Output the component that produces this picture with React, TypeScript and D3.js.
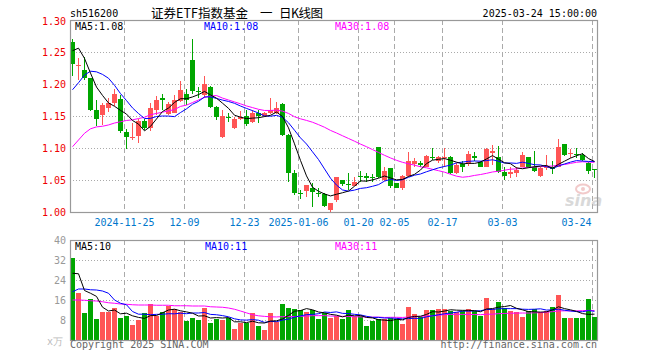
import React from "react";
import * as d3 from "d3";

const dates = [
  "2024-11-12","2024-11-13","2024-11-14","2024-11-15","2024-11-18","2024-11-19","2024-11-20","2024-11-21","2024-11-22",
  "2024-11-25","2024-11-26","2024-11-27","2024-11-28","2024-11-29",
  "2024-12-02","2024-12-03","2024-12-04","2024-12-05","2024-12-06","2024-12-09","2024-12-10","2024-12-11","2024-12-12","2024-12-13",
  "2024-12-16","2024-12-17","2024-12-18","2024-12-19","2024-12-20","2024-12-23","2024-12-24","2024-12-25","2024-12-26","2024-12-27",
  "2024-12-30","2024-12-31",
  "2025-01-02","2025-01-03","2025-01-06","2025-01-07","2025-01-08","2025-01-09","2025-01-10","2025-01-13","2025-01-14","2025-01-15",
  "2025-01-16","2025-01-17","2025-01-20","2025-01-21","2025-01-22","2025-01-23","2025-01-24","2025-01-27",
  "2025-02-05","2025-02-06","2025-02-07","2025-02-10","2025-02-11","2025-02-12","2025-02-13","2025-02-14","2025-02-17","2025-02-18",
  "2025-02-19","2025-02-20","2025-02-21","2025-02-24","2025-02-25","2025-02-26","2025-02-27","2025-02-28",
  "2025-03-03","2025-03-04","2025-03-05","2025-03-06","2025-03-07","2025-03-10","2025-03-11","2025-03-12","2025-03-13","2025-03-14",
  "2025-03-17","2025-03-18","2025-03-19","2025-03-20","2025-03-21","2025-03-24",
];

const open = [
  1.266, 1.228, 1.222, 1.209, 1.159, 1.152, 1.162, 1.170, 1.177, 1.125,
  1.116, 1.118, 1.142, 1.131, 1.159, 1.178, 1.153, 1.155, 1.174, 1.184,
  1.2375, 1.189, 1.183, 1.196, 1.164, 1.117, 1.149, 1.131, 1.146, 1.150,
  1.140, 1.155, 1.150, 1.154, 1.154, 1.169, 1.120, 1.061, 1.030, 1.033,
  1.037, 1.030, 1.028, 1.003, 1.018, 1.050, 1.043, 1.041, 1.056, 1.057,
  1.055, 1.102, 1.050, 1.068, 1.046, 1.037, 1.057, 1.075, 1.076, 1.071,
  1.086, 1.080, 1.085, 1.086, 1.061, 1.0745, 1.075, 1.087, 1.078, 1.071,
  1.092, 1.086, 1.063, 1.060, 1.061, 1.071, 1.0855, 1.071, 1.056, 1.068,
  1.071, 1.071, 1.106, 1.091, 1.091, 1.089, 1.077, 1.0675,
];
const high = [
  1.270, 1.240, 1.242, 1.209, 1.175, 1.170, 1.178, 1.192, 1.183, 1.129,
  1.139, 1.145, 1.145, 1.170, 1.181, 1.184, 1.172, 1.183, 1.204, 1.192,
  1.270, 1.195, 1.2125, 1.197, 1.165, 1.159, 1.154, 1.148, 1.158, 1.159,
  1.159, 1.160, 1.157, 1.178, 1.172, 1.170, 1.122, 1.066, 1.034, 1.042,
  1.046, 1.037, 1.030, 1.0145, 1.055, 1.050, 1.061, 1.054, 1.064, 1.061,
  1.059, 1.102, 1.071, 1.068, 1.046, 1.058, 1.094, 1.084, 1.079, 1.089,
  1.0995, 1.0875, 1.0995, 1.0875, 1.076, 1.080, 1.095, 1.094, 1.079, 1.0995,
  1.105, 1.103, 1.070, 1.070, 1.071, 1.094, 1.0865, 1.096, 1.070, 1.089,
  1.080, 1.1135, 1.107, 1.098, 1.0995, 1.0915, 1.0785, 1.0675,
];
const low = [
  1.213, 1.206, 1.207, 1.158, 1.134, 1.136, 1.157, 1.165, 1.124, 1.098,
  1.113, 1.108, 1.128, 1.127, 1.152, 1.159, 1.152, 1.154, 1.172, 1.167,
  1.185, 1.178, 1.178, 1.162, 1.143, 1.115, 1.141, 1.129, 1.143, 1.134,
  1.139, 1.139, 1.148, 1.153, 1.153, 1.119, 1.047, 1.027, 1.021, 1.024,
  1.008, 1.023, 1.008, 1.000, 1.016, 1.040, 1.035, 1.040, 1.047, 1.047,
  1.047, 1.053, 1.049, 1.037, 1.037, 1.035, 1.055, 1.071, 1.070, 1.070,
  1.081, 1.076, 1.071, 1.059, 1.059, 1.063, 1.072, 1.079, 1.070, 1.070,
  1.073, 1.061, 1.050, 1.053, 1.054, 1.070, 1.068, 1.063, 1.055, 1.066,
  1.059, 1.070, 1.0875, 1.084, 1.084, 1.080, 1.060, 1.053,
];
const close = [
  1.232, 1.229, 1.210, 1.159, 1.146, 1.167, 1.170, 1.184, 1.127, 1.117,
  1.117, 1.142, 1.131, 1.162, 1.175, 1.175, 1.169, 1.175, 1.191, 1.175,
  1.189, 1.187, 1.200, 1.164, 1.149, 1.150, 1.147, 1.146, 1.149, 1.1375,
  1.154, 1.150, 1.155, 1.159, 1.1625, 1.120, 1.061, 1.030, 1.029, 1.042,
  1.032, 1.029, 1.009, 1.0135, 1.055, 1.044, 1.042, 1.047, 1.055, 1.053,
  1.054, 1.055, 1.064, 1.040, 1.038, 1.057, 1.079, 1.080, 1.074, 1.088,
  1.084, 1.0855, 1.086, 1.061, 1.073, 1.070, 1.0906, 1.085, 1.071, 1.098,
  1.096, 1.063, 1.057, 1.063, 1.066, 1.089, 1.071, 1.0645, 1.068, 1.071,
  1.067, 1.102, 1.089, 1.092, 1.090, 1.082, 1.0645, 1.066,
];
const volume = [
  32.8, 18.8, 10.8, 16.4, 8.4, 11.2, 11.2, 12.8, 8.8, 9.6,
  6.0, 8.0, 10.8, 14.4, 9.8, 11.4, 13.6, 12.4, 11.2, 7.6,
  8.8, 8.0, 12.8, 6.8, 8.4, 8.0, 8.8, 4.4, 6.8, 6.8,
  10.8, 5.6, 4.0, 10.8, 7.2, 14.4, 12.8, 12.4, 12.0, 11.2,
  12.0, 8.4, 10.8, 8.9, 9.6, 8.5, 12.0, 9.3, 9.7, 5.6,
  7.6, 8.4, 8.4, 8.7, 8.4, 6.4, 13.2, 10.4, 9.1, 12.0,
  12.0, 12.4, 12.4, 11.7, 11.2, 11.6, 12.4, 11.7, 9.6, 16.8,
  12.4, 15.2, 12.9, 11.7, 11.2, 9.3, 11.7, 12.4, 11.2, 11.7,
  13.2, 18.0, 8.7, 8.7, 8.7, 8.7, 16.4, 9.2,
];

// moving-average values before enough history exists
const ma5Head = [1.252, 1.256, 1.240, 1.217];
const ma10Head = [1.191, 1.202, 1.214, 1.220, 1.219, 1.215, 1.209, 1.198, 1.185];
const ma30Head = [
  1.102, 1.1125, 1.123, 1.130, 1.133, 1.134, 1.136, 1.139, 1.141, 1.143,
  1.144, 1.146, 1.148, 1.152, 1.154, 1.156, 1.158, 1.160, 1.165, 1.167,
  1.171, 1.175, 1.179, 1.181, 1.182, 1.178, 1.175, 1.172, 1.169,
];
const vma5Head = [26.7, 26.5, 19.8, 18.7];
const vma10Head = [19.3, 20.4, 20.4, 20.1, 20.0, 19.6, 18.7, 16.0, 14.7];
const vma30Head = [
  16.0, 16.0, 15.9, 15.7, 15.6, 15.3, 14.9, 14.7, 14.4, 14.3,
  14.1, 14.0, 14.0, 14.0, 13.9, 13.9, 13.9, 13.7, 13.7, 13.7,
  13.6, 13.6, 13.6, 13.3, 13.2, 13.1, 12.8, 12.3, 11.6,
];

const tickDates = ["2024-11-25","2024-12-09","2024-12-23","2025-01-06","2025-01-20","2025-02-05","2025-02-17","2025-03-03","2025-03-24"];
const tickLabels = ["2024-11-25","12-09","12-23","2025-01-06","01-20","02-05","02-17","03-03","03-24"];
const priceTicks = [1.0, 1.05, 1.1, 1.15, 1.2, 1.25, 1.3];
const volTicks = [8, 16, 24, 32, 40];

const symbol = "sh516200";
const titleParts = ["证券ETF指数基金", "一", "日K线图"];
const stamp = "2025-03-24 15:00:00";

const L = 70, R = 598, PT = 20, PB = 212, VT = 240, VB = 340;
const UP = "#ff5555";
const DOWN = "#00a600";
const MONO = "'DejaVu Sans Mono', 'Liberation Mono', monospace";
const CJK = "'Noto Sans CJK SC', sans-serif";

function movingAvg(vals: number[], n: number, head: number[]): number[] {
  return vals.map((_, i) => (i < head.length ? head[i] : (d3.mean(vals.slice(i - n + 1, i + 1)) as number)));
}

export default function App() {
  const x = d3.scaleBand<string>().domain(dates).range([L, R]).padding(0);
  const y = d3.scaleLinear().domain([1.0, 1.3]).range([PB, PT]);
  const yv = d3.scaleLinear().domain([0, 40]).range([VB, VT]);

  const ma5 = movingAvg(close, 5, ma5Head);
  const ma10 = movingAvg(close, 10, ma10Head);
  const ma30 = movingAvg(close, 30, ma30Head);
  const vma5 = movingAvg(volume, 5, vma5Head);
  const vma10 = movingAvg(volume, 10, vma10Head);
  const vma30 = movingAvg(volume, 30, vma30Head);

  const cx = (i: number) => (x(dates[i]) as number) + 2.5;
  const lineP = d3.line<number>().x((_, i) => cx(i)).y((d) => y(d));
  const lineV = d3.line<number>().x((_, i) => cx(i)).y((d) => yv(d));

  const last = (a: number[]) => a[a.length - 1];

  return (
    <svg width={660} height={360} style={{ position: "absolute", left: 0, top: 0, background: "#fff" }} fontFamily={MONO}>
      {/* header */}
      <text x={70} y={16.5} fontSize={10} fill="#000">{symbol}</text>
      <text x={151} y={17.5} fontSize={12.5} fill="#000" fontFamily={CJK} textLength={97} lengthAdjust="spacing">{titleParts[0]}</text>
      <text x={260} y={17.5} fontSize={12.5} fill="#000" fontFamily={CJK}>{titleParts[1]}</text>
      <text x={279} y={17.5} fontSize={12.5} fill="#000" fontFamily={CJK} textLength={44} lengthAdjust="spacing">{titleParts[2]}</text>
      <text x={597} y={16.5} fontSize={10} fill="#000" textAnchor="end">{stamp}</text>

      {/* grid */}
      {priceTicks.slice(1, -1).map((t) => (
        <line key={"ph" + t} x1={L} x2={R} y1={Math.round(y(t)) + 0.5} y2={Math.round(y(t)) + 0.5} stroke="#aaa" strokeDasharray="1,2" />
      ))}
      {tickDates.map((d) => {
        const gx = Math.round(x(d) as number) + 0.5;
        return (
          <g key={"v" + d}>
            <line x1={gx} x2={gx} y1={PT} y2={PB} stroke="#aaa" strokeDasharray="5,3" />
            <line x1={gx} x2={gx} y1={VT} y2={VB} stroke="#aaa" strokeDasharray="5,3" />
          </g>
        );
      })}
      {volTicks.slice(0, -1).map((t) => (
        <line key={"vh" + t} x1={L} x2={R} y1={Math.round(yv(t)) + 0.5} y2={Math.round(yv(t)) + 0.5} stroke="#aaa" strokeDasharray="1,2" />
      ))}

      {/* candles */}
      {dates.map((d, i) => {
        const bx = x(d) as number;
        const col = close[i] >= open[i] ? UP : DOWN;
        const top = Math.round(y(Math.max(open[i], close[i])));
        const bot = Math.round(y(Math.min(open[i], close[i])));
        const hi = Math.round(y(high[i]));
        const lo = Math.round(y(low[i]));
        return (
          <g key={d}>
            <rect x={bx + 2} y={hi} width={1} height={Math.max(1, lo - hi)} fill={col} />
            <rect x={bx} y={top} width={5} height={Math.max(1, bot - top)} fill={col} />
          </g>
        );
      })}

      {/* price MAs */}
      <path d={lineP(ma30) as string} fill="none" stroke="#ff00ff" strokeWidth={1} />
      <path d={lineP(ma10) as string} fill="none" stroke="#0000ff" strokeWidth={1} />
      <path d={lineP(ma5) as string} fill="none" stroke="#000" strokeWidth={1} />

      {/* volume bars */}
      {dates.map((d, i) => {
        const bx = x(d) as number;
        const col = close[i] >= open[i] ? UP : DOWN;
        const top = Math.round(yv(volume[i]));
        return <rect key={"vb" + d} x={bx} y={top} width={5} height={VB - top} fill={col} />;
      })}
      <path d={lineV(vma30) as string} fill="none" stroke="#ff00ff" strokeWidth={1} />
      <path d={lineV(vma10) as string} fill="none" stroke="#0000ff" strokeWidth={1} />
      <path d={lineV(vma5) as string} fill="none" stroke="#000" strokeWidth={1} />

      {/* sina watermark */}
      <g opacity={0.55}>
        <ellipse cx={583} cy={189} rx={7} ry={4.5} fill="none" stroke="#e8a0a0" strokeWidth={2} />
        <circle cx={583} cy={189} r={2} fill="#e8a0a0" />
        <text x={565} y={206} fontSize={16} fontStyle="italic" fontWeight="bold" fill="#bbb" fontFamily="'DejaVu Sans', sans-serif">sina</text>
      </g>

      {/* panel borders */}
      <rect x={L + 0.5} y={PT + 0.5} width={R - L - 1} height={PB - PT} fill="none" stroke="#999" strokeWidth={1.2} />
      <rect x={L + 0.5} y={VT + 0.5} width={R - L - 1} height={VB - VT} fill="none" stroke="#999" strokeWidth={1.2} />

      {/* axis labels */}
      {priceTicks.map((t) => (
        <text key={"pl" + t} x={66} y={Math.max(y(t) + 3.7, 25.3)} fontSize={10} fill="#ee0000" textAnchor="end">{t.toFixed(2)}</text>
      ))}
      {volTicks.map((t) => (
        <text key={"vl" + t} x={66} y={yv(t) + 3.7} fontSize={10} fill="#999" textAnchor="end">{t}</text>
      ))}
      <text x={63} y={344.5} fontSize={10} fill="#bbb" textAnchor="end">x万</text>

      {tickDates.map((d, k) => {
        const gx = Math.round(x(d) as number) + 0.5;
        const isLast = k === tickDates.length - 1;
        return (
          <text key={"xl" + d} x={isLast ? gx - 1 : gx} y={225.5} fontSize={10} fill="#0077cc" textAnchor={isLast ? "end" : "middle"}>{tickLabels[k]}</text>
        );
      })}

      {/* legends */}
      <text x={75} y={30} fontSize={10} fill="#000">MA5:{last(ma5).toFixed(2)}</text>
      <text x={204} y={30} fontSize={10} fill="#0000ff">MA10:{last(ma10).toFixed(2)}</text>
      <text x={335} y={30} fontSize={10} fill="#ff00ff">MA30:{last(ma30).toFixed(2)}</text>
      <text x={75} y={250} fontSize={10} fill="#000">MA5:{Math.floor(last(vma5))}</text>
      <text x={205} y={250} fontSize={10} fill="#0000ff">MA10:{Math.floor(last(vma10))}</text>
      <text x={335} y={250} fontSize={10} fill="#ff00ff">MA30:{Math.floor(last(vma30))}</text>

      {/* footer */}
      <text x={70} y={347.5} fontSize={10} fill="#666">Copyright 2025 SINA.COM</text>
      <text x={597} y={347.5} fontSize={10} fill="#666" textAnchor="end">http://finance.sina.com.cn</text>
    </svg>
  );
}
